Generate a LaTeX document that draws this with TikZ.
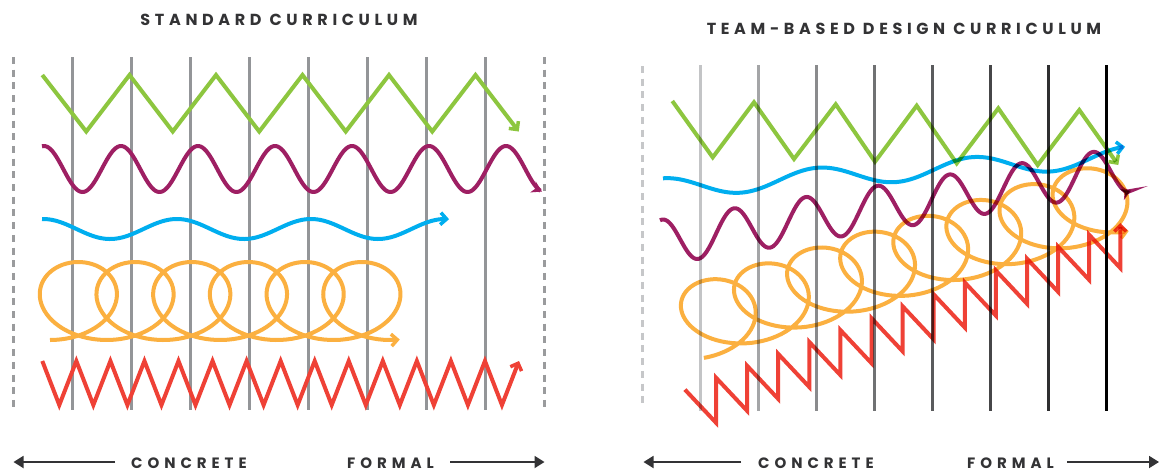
\documentclass[tikz,border=0pt]{standalone}
\usepackage{fontspec}
\usetikzlibrary{arrows.meta}
\newfontfamily\ttlfont{Poppins}[UprightFont=* Bold,LetterSpace=29]
\newfontfamily\axfont{Poppins}[UprightFont=* Bold,LetterSpace=33]
\definecolor{cgreen}{HTML}{8DC63F}
\definecolor{cpurple}{HTML}{9E1F63}
\definecolor{cblue}{HTML}{00AEEF}
\definecolor{corange}{HTML}{FBB040}
\definecolor{cred}{HTML}{EF4136}
\definecolor{txt}{HTML}{333335}
\definecolor{gline}{HTML}{939598}
\definecolor{gdash}{HTML}{9A9B9D}
\definecolor{ldash}{HTML}{C6C7C9}
\begin{document}
\begin{tikzpicture}[x=1pt,y=-1pt,line cap=butt,line join=miter,
  curve/.style={line width=4pt},
  barb/.style={-{Straight Barb[length=6pt,width=12pt,line width=3.5pt]}},
  stealthtip/.style={-{Stealth[length=10pt,width=12pt,inset=3pt]}},
  gridline/.style={line width=3pt,draw=gline},
  dashline/.style={line width=3pt,dash pattern=on 7pt off 5.7pt},
  title/.style={font=\ttlfont\fontsize{16}{16}\selectfont,text=txt,inner sep=0pt,anchor=base},
  axlabel/.style={font=\axfont\fontsize{15}{15}\selectfont,text=txt,inner sep=0pt,anchor=base west},
  axisarrow/.style={draw=txt,line width=1.8pt,-{Triangle[length=10pt,width=12pt]}}]
\fill[white] (0,0) rectangle (1161,472);
\useasboundingbox (0,0) rectangle (1161,472);

% ---------------- left panel ----------------
\node[title] (ttlL) at (279,25.5) {STANDARD CURRICULUM};
\draw[dashline,draw=gdash] (13,57) -- (13,410);
\draw[dashline,draw=gdash] (544.3,57) -- (544.3,410);
\foreach \i in {0,...,7} \draw[gridline] ({72.3+59*\i},57) -- ({72.3+59*\i},410);

\draw[curve,cgreen,barb] (42.3,75) -- (86.25,131.5) -- (129.5,75) -- (172.75,131.5) -- (216,75)
  -- (259.25,131.5) -- (302.5,75) -- (345.75,131.5) -- (389,75) -- (432.25,131.5) -- (475.5,75) -- (518.75,131.5);
\draw[curve,cpurple,stealthtip] plot[domain=42:542,samples=300] (\x,{169-23*cos((\x-44)/77*360)});
\draw[curve,cblue,barb] plot[domain=42:449,samples=200] (\x,{229-10*cos((\x-43)/134*360)});
\draw[curve,corange,barb] plot[variable=\t,domain=0:2169,samples=420] ({50+\t/360*56.7+52*sin(\t)},{301+39*cos(\t)});
\draw[curve,cred,barb] (42.3,361) \foreach \k in {0,...,13} { -- ({59.3+34.05*\k},405) -- ({76.35+34.05*\k},361) };

\coordinate (aL1) at (115,462); \coordinate (tL1) at (13.5,462);
\coordinate (aL2) at (450,462); \coordinate (tL2) at (544.5,462);
\draw[axisarrow] (aL1) -- (tL1);
\draw[axisarrow] (aL2) -- (tL2);
\node[axlabel] (concL) at (131,468) {CONCRETE};
\node[axlabel] (formL) at (347,468) {FORMAL};

% ---------------- right panel ----------------
\node[title] (ttlR) at (904,34) {TEAM-BASED DESIGN CURRICULUM};
\draw[dashline,draw=ldash] (642.7,66) -- (642.7,405);
\foreach \i/\c in {0/C3C4C6,1/A4A5A7,2/8A8B8D,3/707173,4/5A5B5D,5/464648,6/2E2E30,7/000000} {
  \definecolor{tmpc}{HTML}{\c}
  \draw[line width=2.7pt,draw=tmpc] ({700.7+58*\i},65) -- ({700.7+58*\i},411);
}
\begin{scope}[blend mode=multiply]
\draw[curve,cgreen,barb] (672.3,101) -- (712.7,157.3) -- (754,102.3) -- (794,159) -- (835.7,104.3) -- (875,161.7)
  -- (916.7,105.7) -- (956.7,163.3) -- (998.3,108.3) -- (1037.7,165) -- (1079.3,110) -- (1118.3,165);
\draw[curve,cblue,barb] plot[domain=663:1125,samples=250] (\x,{188.15-0.0684*(\x-663)-9.85*cos((\x-663)/155*360)});
\draw[curve,cpurple,stealthtip] plot[domain=660:1131,samples=350] (\x,{230.8-0.157*(\x-734)-22.5*cos((\x-734)/71.8*360)});
\draw[curve,corange,barb] plot[variable=\t,domain=12:2892,samples=560] ({691.75+\t/360*53.1+50*sin(\t)},{323.2-\t/360*15.85+36*cos(\t)});
\draw[curve,cred,barb] (684.9,389.6) \foreach \k in {0,...,13} { -- ({716+31.1*\k},{422.7-11.9*\k}) -- ({716+31.1*\k},{377.7-11.9*\k}) };
\end{scope}

\coordinate (aR1) at (741,462); \coordinate (tR1) at (643.5,462);
\coordinate (aR2) at (1067,462); \coordinate (tR2) at (1159,462);
\draw[axisarrow] (aR1) -- (tR1);
\draw[axisarrow] (aR2) -- (tR2);
\node[axlabel] (concR) at (758,468) {CONCRETE};
\node[axlabel] (formR) at (967,468) {FORMAL};
\end{tikzpicture}
\end{document}
